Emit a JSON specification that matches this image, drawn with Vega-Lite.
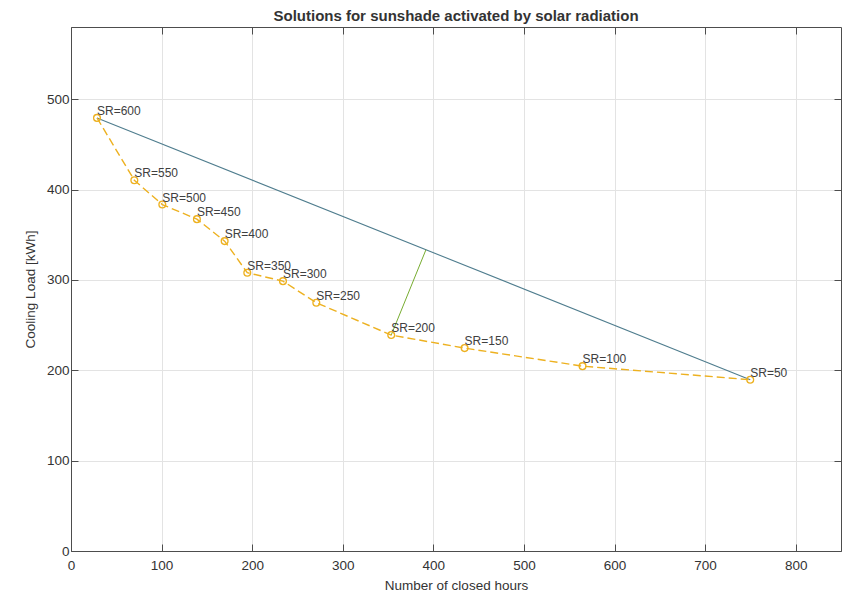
{
  "$schema": "https://vega.github.io/schema/vega-lite/v6.json",
  "width": 770,
  "height": 524,
  "autosize": {"type": "none"},
  "padding": {"left": 71, "top": 27, "right": 3, "bottom": 42},
  "background": "white",
  "config": {
    "font": "Liberation Sans",
    "view": {"stroke": null},
    "axis": {
      "domainColor": "#4d4d4d",
      "tickColor": "#4d4d4d",
      "labelColor": "#333333",
      "titleColor": "#333333",
      "labelFont": "Liberation Sans",
      "titleFont": "Liberation Sans",
      "labelFontSize": 13.5,
      "titleFontSize": 13.5,
      "titleFontWeight": "normal",
      "gridColor": "#e3e3e3",
      "gridWidth": 1,
      "tickSize": -7,
      "domainWidth": 1
    }
  },
  "title": {
    "text": "Solutions for sunshade activated by solar radiation",
    "font": "Liberation Sans",
    "fontSize": 15,
    "fontWeight": "bold",
    "color": "#333333",
    "offset": 3,
    "anchor": "middle"
  },
  "datasets": {
    "pts": [
      {"hours": 28.7, "load": 479.4, "label": "SR=600"},
      {"hours": 69.9, "load": 410.4, "label": "SR=550"},
      {"hours": 100.8, "load": 383.5, "label": "SR=500"},
      {"hours": 139, "load": 367.3, "label": "SR=450"},
      {"hours": 169.6, "load": 343, "label": "SR=400"},
      {"hours": 194.6, "load": 308, "label": "SR=350"},
      {"hours": 234, "load": 298.7, "label": "SR=300"},
      {"hours": 270.8, "load": 274.8, "label": "SR=250"},
      {"hours": 353.5, "load": 239, "label": "SR=200"},
      {"hours": 434.5, "load": 224.6, "label": "SR=150"},
      {"hours": 564.7, "load": 204.6, "label": "SR=100"},
      {"hours": 749.8, "load": 189.6, "label": "SR=50"}
    ],
    "hull": [
      {"hours": 28.7, "load": 479.4},
      {"hours": 749.8, "load": 189.6}
    ],
    "perp": [
      {"hours": 353.5, "load": 239},
      {"hours": 391.8, "load": 333.4}
    ]
  },
  "layer": [
    {
      "data": {"name": "hull"},
      "mark": {"type": "line", "color": "#4f7d8e", "strokeWidth": 1.1},
      "encoding": {
        "x": {
          "field": "hours", "type": "quantitative",
          "scale": {"domain": [0, 850], "nice": false, "zero": false},
          "axis": {"orient": "bottom", "values": [0,100,200,300,400,500,600,700,800], "grid": true, "title": "Number of closed hours", "labelPadding": 14, "titlePadding": 7, "labelFlush": false}
        },
        "y": {
          "field": "load", "type": "quantitative",
          "scale": {"domain": [0, 580], "nice": false, "zero": false},
          "axis": {"orient": "left", "values": [0,100,200,300,400,500], "grid": true, "title": "Cooling Load [kWh]", "labelPadding": 9, "titlePadding": 9, "labelFlush": false}
        }
      }
    },
    {
      "data": {"name": "perp"},
      "mark": {"type": "line", "color": "#77ac30", "strokeWidth": 1},
      "encoding": {
        "x": {
          "field": "hours", "type": "quantitative",
          "axis": {"orient": "top", "values": [0,100,200,300,400,500,600,700,800], "grid": false, "labels": false, "title": null}
        },
        "y": {
          "field": "load", "type": "quantitative",
          "axis": {"orient": "right", "values": [0,100,200,300,400,500], "grid": false, "labels": false, "title": null}
        }
      }
    },
    {
      "data": {"name": "pts"},
      "mark": {"type": "line", "color": "#edb120", "strokeWidth": 1.4, "strokeDash": [8, 4]},
      "encoding": {
        "x": {"field": "hours", "type": "quantitative", "axis": null},
        "y": {"field": "load", "type": "quantitative", "axis": null}
      }
    },
    {
      "data": {"name": "pts"},
      "mark": {"type": "point", "shape": "circle", "filled": false, "color": "#edb120", "size": 46, "strokeWidth": 1.3, "opacity": 1},
      "encoding": {
        "x": {"field": "hours", "type": "quantitative", "axis": null},
        "y": {"field": "load", "type": "quantitative", "axis": null}
      }
    },
    {
      "data": {"name": "pts"},
      "mark": {"type": "text", "align": "left", "baseline": "middle", "dx": 0, "dy": -7, "fontSize": 12, "color": "#404040", "font": "Liberation Sans"},
      "encoding": {
        "x": {"field": "hours", "type": "quantitative", "axis": null},
        "y": {"field": "load", "type": "quantitative", "axis": null},
        "text": {"field": "label"}
      }
    }
  ],
  "resolve": {"axis": {"x": "independent", "y": "independent"}}
}
